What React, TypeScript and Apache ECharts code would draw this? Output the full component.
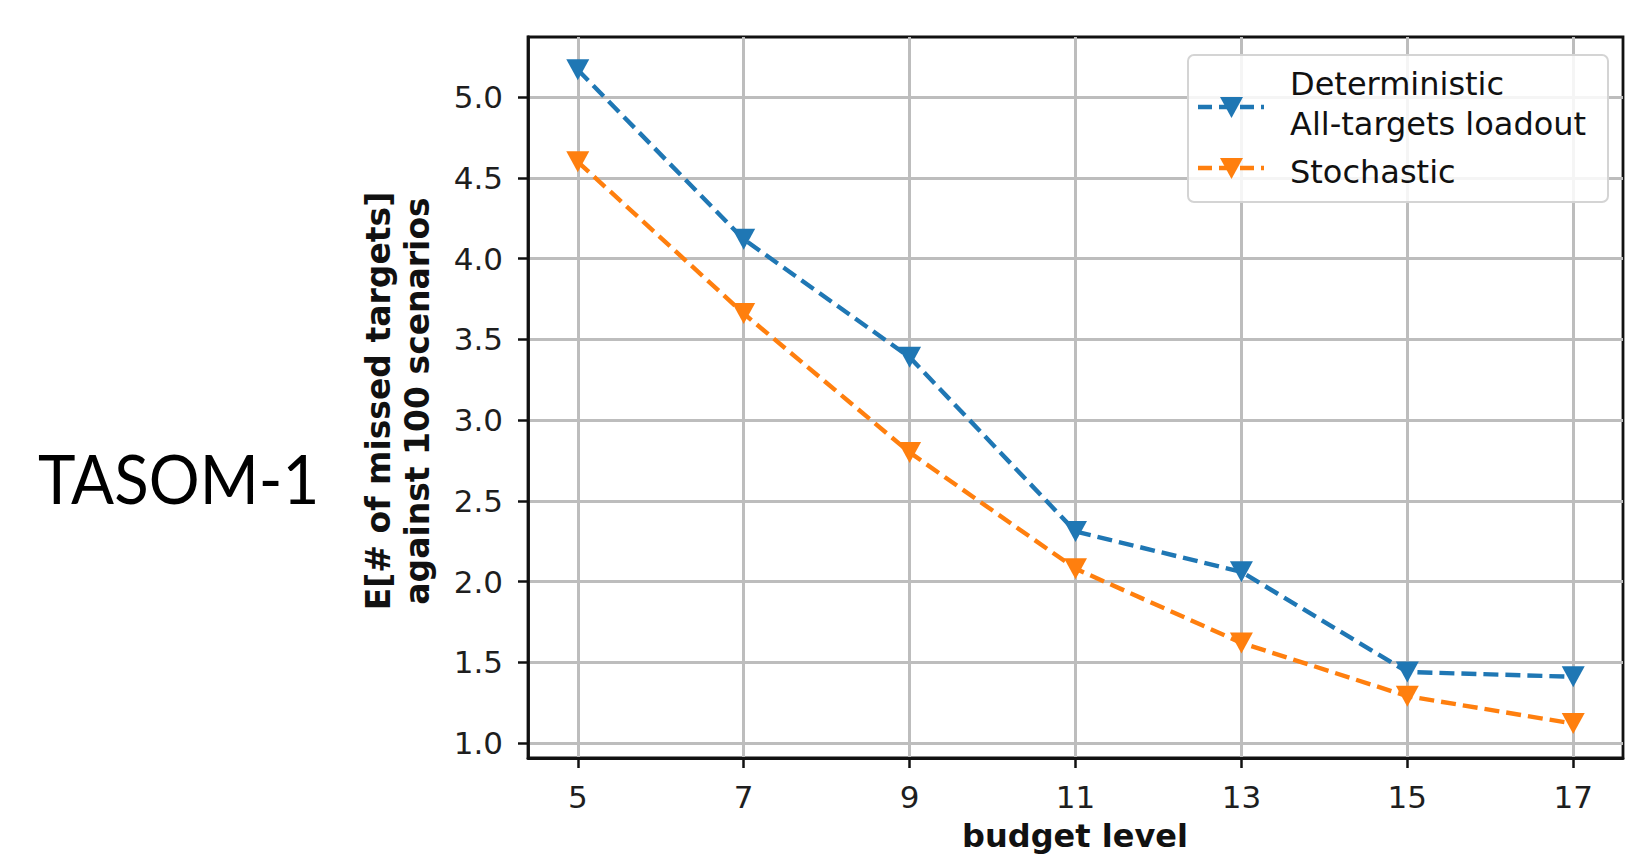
import React, { useEffect, useRef } from "react";
import * as echarts from "echarts";

const budgets = [5, 7, 9, 11, 13, 15, 17];
const deterministic = [5.17, 4.12, 3.39, 2.31, 2.06, 1.44, 1.41];
const stochastic = [4.6, 3.66, 2.8, 2.08, 1.62, 1.29, 1.12];
const yTicks = [1.0, 1.5, 2.0, 2.5, 3.0, 3.5, 4.0, 4.5, 5.0];
const xTicks = [5, 7, 9, 11, 13, 15, 17];
const seriesNames = ["Deterministic\nAll-targets loadout", "Stochastic"];
const colors = ["#1f77b4", "#ff7f0e"];
const xLabel = "budget level";
const yLabelLines = ["E[# of missed targets]", "against 100 scenarios"];
const sideTitle = "TASOM-1";

const FONT = "DejaVu Sans";

export default function App() {
  const ref = useRef<HTMLDivElement>(null);
  useEffect(() => {
    if (!ref.current) return;
    document.body.style.margin = "0";
    const chart = echarts.init(ref.current, undefined, { renderer: "svg" });
    const gridLeft = 528;
    const gridTop = 37;
    const gridW = 1095;
    const gridH = 721;
    const mkSeries = (name: string, vals: number[], color: string) => ({
      name,
      type: "line",
      data: budgets.map((b, i) => [b, vals[i]]),
      symbol: "triangle",
      symbolRotate: 180,
      symbolSize: [23, 21],
      itemStyle: { color },
      lineStyle: { color, width: 4.4, type: [15, 7] },
      z: 3,
    });
    const legendItems: any[] = [
      {
        type: "rect",
        z: 20,
        shape: { x: 1188, y: 55, width: 420, height: 147, r: 6 },
        style: { fill: "rgba(255,255,255,0.85)", stroke: "#d4d4d4", lineWidth: 2 },
      },
    ];
    const legendRows = [
      { y: 107, texts: [{ t: "Deterministic", y: 84 }, { t: "All-targets loadout", y: 124 }], color: colors[0] },
      { y: 168, texts: [{ t: "Stochastic", y: 172 }], color: colors[1] },
    ];
    legendRows.forEach((row) => {
      legendItems.push({
        type: "line",
        z: 21,
        shape: { x1: 1198, y1: row.y, x2: 1264, y2: row.y },
        style: { stroke: row.color, lineWidth: 4.4, lineDash: [14, 7] },
      });
      legendItems.push({
        type: "polygon",
        z: 22,
        shape: { points: [[1220, row.y - 10], [1243, row.y - 10], [1231.5, row.y + 11]] },
        style: { fill: row.color },
      });
      row.texts.forEach((tx) => {
        legendItems.push({
          type: "text",
          z: 22,
          x: 1290,
          y: tx.y,
          style: {
            text: tx.t,
            font: `32px '${FONT}'`,
            fill: "#111",
            textAlign: "left",
            textVerticalAlign: "middle",
          },
        });
      });
    });
    chart.setOption({
      animation: false,
      backgroundColor: "#ffffff",
      grid: {
        left: gridLeft,
        top: gridTop,
        width: gridW,
        height: gridH,
        show: true,
        borderColor: "#111",
        borderWidth: 2.8,
        containLabel: false,
      },
      xAxis: {
        type: "value",
        min: 4.4,
        max: 17.6,
        axisLine: { show: true, onZero: false, lineStyle: { color: "#111", width: 2.8 } },
        axisTick: { show: true, customValues: xTicks, length: 10, lineStyle: { color: "#111", width: 2.5 } },
        axisLabel: {
          customValues: xTicks,
          margin: 23,
          fontSize: 31,
          fontFamily: FONT,
          color: "#1e1e1e",
          formatter: (v: number) => String(v),
        },
        splitLine: { show: true, lineStyle: { color: "#bdbdbd", width: 3 } },
      },
      yAxis: {
        type: "value",
        min: 0.907,
        max: 5.373,
        axisLine: { show: true, onZero: false, lineStyle: { color: "#111", width: 2.8 } },
        axisTick: { show: true, customValues: yTicks, length: 10, lineStyle: { color: "#111", width: 2.5 } },
        axisLabel: {
          customValues: yTicks,
          margin: 25,
          fontSize: 31,
          fontFamily: FONT,
          color: "#1e1e1e",
          formatter: (v: number) => v.toFixed(1),
        },
        splitLine: { show: true, lineStyle: { color: "#bdbdbd", width: 3 } },
      },
      series: [
        mkSeries(seriesNames[0], deterministic, colors[0]),
        mkSeries(seriesNames[1], stochastic, colors[1]),
      ],
      graphic: [
        {
          type: "text",
          x: 38,
          y: 478,
          scaleX: 0.95,
          style: {
            text: sideTitle,
            font: "67px Lato",
            fill: "#000",
            textAlign: "left",
            textVerticalAlign: "middle",
          },
        },
        {
          type: "text",
          x: 378,
          y: 401,
          rotation: Math.PI / 2,
          style: {
            text: yLabelLines[0],
            font: `bold 33px '${FONT}'`,
            fill: "#111",
            textAlign: "center",
            textVerticalAlign: "middle",
          },
        },
        {
          type: "text",
          x: 417,
          y: 401,
          rotation: Math.PI / 2,
          style: {
            text: yLabelLines[1],
            font: `bold 33px '${FONT}'`,
            fill: "#111",
            textAlign: "center",
            textVerticalAlign: "middle",
          },
        },
        {
          type: "text",
          x: 1075,
          y: 836,
          style: {
            text: xLabel,
            font: `bold 32px '${FONT}'`,
            fill: "#111",
            textAlign: "center",
            textVerticalAlign: "middle",
          },
        },
        {
          type: "group",
          children: legendItems,
        },
      ],
    });
    return () => chart.dispose();
  }, []);
  return (
    <div style={{ position: "absolute", left: 0, top: 0 }}>
      <div ref={ref} style={{ width: 1644, height: 857 }} />
    </div>
  );
}
